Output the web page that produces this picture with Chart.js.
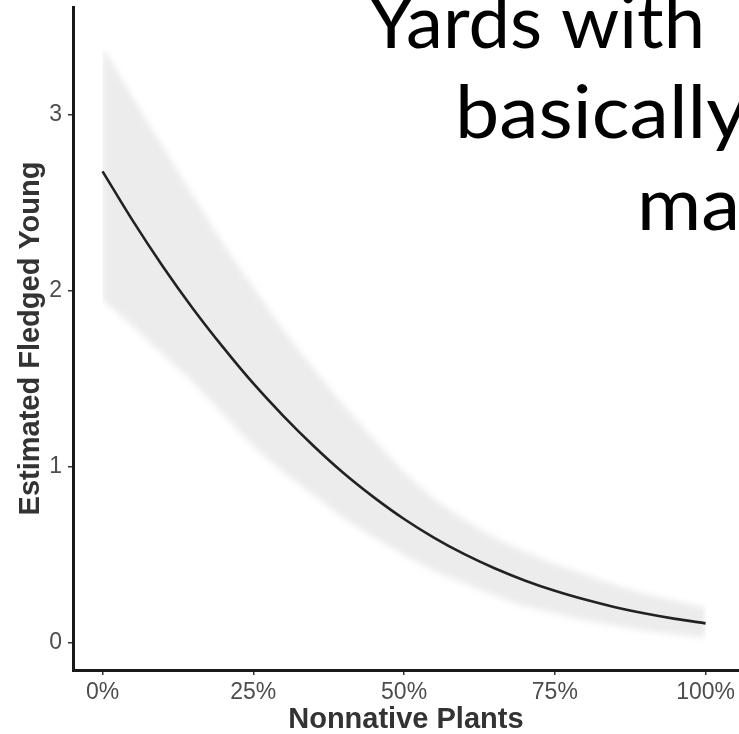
<!DOCTYPE html>
<html>
<head>
<meta charset="utf-8">
<script src="https://cdn.jsdelivr.net/npm/chart.js@4"></script>
<style>
  html, body { margin: 0; padding: 0; background: #fff; overflow: hidden; }
  #wrap { position: relative; width: 739px; height: 734px; }
</style>
</head>
<body>
<div id="wrap"><canvas id="chart" width="739" height="734"></canvas></div>
<script>
// values
const pct     = [0, 5, 10, 15, 20, 25, 30, 35, 40, 45, 50, 55, 60, 65, 70, 75, 80, 85, 90, 95, 100];
const fledged = [2.68, 2.40, 2.14, 1.90, 1.68, 1.475, 1.29, 1.12, 0.965, 0.828, 0.705, 0.598, 0.505, 0.425, 0.356, 0.297, 0.247, 0.204, 0.168, 0.1375, 0.112];
const upperCI = [3.39, 3.10, 2.82, 2.54, 2.27, 2.02, 1.78, 1.56, 1.35, 1.16, 0.97, 0.82, 0.70, 0.60, 0.52, 0.45, 0.39, 0.33, 0.28, 0.24, 0.20];
const lowerCI = [1.95, 1.80, 1.64, 1.48, 1.30, 1.12, 0.97, 0.84, 0.71, 0.60, 0.50, 0.41, 0.34, 0.27, 0.21, 0.17, 0.13, 0.10, 0.07, 0.05, 0.03];

const xTicks = [0, 25, 50, 75, 100];
const yTicks = [0, 1, 2, 3];
const slideLines = ['Yards with', 'basically', 'ma'];

const toPoints = arr => arr.map((v, i) => ({ x: pct[i], y: v }));

// band is soft in the original, so blur only the fill
const blurBand = {
  id: 'blurBand',
  beforeRender(chart) { chart.ctx.filter = 'blur(3px)'; },
  beforeDraw(chart) { chart.ctx.filter = 'none'; }
};

// cropped slide text over the top right
const slideText = {
  id: 'slideText',
  afterDraw(chart) {
    const ctx = chart.ctx;
    const starts = [368, 455, 637];
    const bases = [48, 138, 230];
    const widths = [337, 292, 103];
    ctx.save();
    ctx.font = '73px Lato';
    ctx.fillStyle = '#000';
    ctx.textBaseline = 'alphabetic';
    slideLines.forEach((t, i) => {
      const sx = widths[i] / ctx.measureText(t).width;
      ctx.save();
      ctx.translate(starts[i], bases[i]);
      ctx.scale(sx, 1);
      ctx.fillText(t, 0, 0);
      ctx.restore();
    });
    ctx.restore();
  }
};

const axisCommon = {
  border: { display: true, color: '#1a1a1a', width: 3 },
  grid: { drawOnChartArea: false, drawTicks: true, tickLength: 5, color: '#333', lineWidth: 1.5 },
};

new Chart(document.getElementById('chart'), {
  type: 'line',
  data: {
    datasets: [
      { label: 'fit', data: toPoints(fledged), borderColor: '#222', borderWidth: 2.6,
        pointRadius: 0, fill: false, cubicInterpolationMode: 'monotone' },
      { label: 'upper', data: toPoints(upperCI), borderWidth: 0, borderColor: 'rgba(0,0,0,0)',
        backgroundColor: '#ececec', pointRadius: 0, fill: '+1', cubicInterpolationMode: 'monotone' },
      { label: 'lower', data: toPoints(lowerCI), borderWidth: 0, borderColor: 'rgba(0,0,0,0)',
        pointRadius: 0, fill: false, cubicInterpolationMode: 'monotone' },
    ]
  },
  options: {
    responsive: false,
    animation: false,
    devicePixelRatio: 1,
    layout: { padding: { top: 7, right: 0, left: 0, bottom: 0 } },
    plugins: {
      legend: { display: false },
      tooltip: { enabled: false },
      filler: { drawTime: 'beforeDraw' },
    },
    scales: {
      x: {
        ...axisCommon,
        type: 'linear',
        min: -4.9, max: 105.5,
        afterBuildTicks: s => { s.ticks = xTicks.map(v => ({ value: v })); },
        afterFit: s => { s.height = 64; },
        ticks: {
          color: '#4d4d4d', padding: 4, maxRotation: 0,
          font: { family: 'Liberation Sans', size: 23 },
          callback: v => v + '%'
        },
        title: {
          display: true, text: 'Nonnative Plants', color: '#333',
          font: { family: 'Liberation Sans', size: 29, weight: 'bold', lineHeight: 1 },
          padding: { top: 0, bottom: 0 }
        }
      },
      y: {
        ...axisCommon,
        min: -0.153, max: 3.614,
        afterBuildTicks: s => { s.ticks = yTicks.map(v => ({ value: v })); },
        afterFit: s => { s.width = 73; s.paddingTop = 0; s.paddingBottom = 0; },
        ticks: {
          color: '#4d4d4d', padding: 6,
          font: { family: 'Liberation Sans', size: 23 },
        },
        title: {
          display: true, text: 'Estimated Fledged Young', color: '#333',
          font: { family: 'Liberation Sans', size: 29, weight: 'bold', lineHeight: 1 },
          padding: { top: 16, bottom: 0 }
        }
      }
    }
  },
  plugins: [blurBand, slideText]
});
</script>
</body>
</html>
